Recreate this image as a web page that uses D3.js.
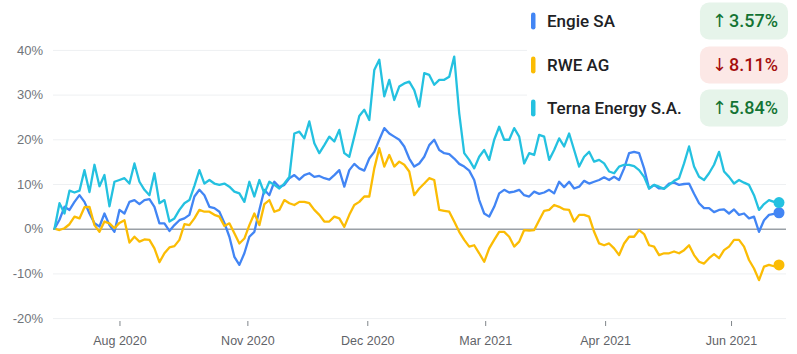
<!DOCTYPE html>
<html>
<head>
<meta charset="utf-8">
<script src="https://cdn.jsdelivr.net/npm/d3@7"></script>
<style>
body { margin: 0; background: #fff; }
svg { display: block; font-family: Roboto, "Noto Sans", sans-serif; }
</style>
</head>
<body>
<div id="chart"></div>
<script>
// Series, % change from start, one value per sample (roughly every trading day pair)
var names = ["Engie SA", "RWE AG", "Terna Energy S.A."];
var changes = [3.57, -8.11, 5.84];
var colors = ["#4285f4", "#fbbc04", "#24c1e0"];

var engie = [
	0, 2.0, 4.9, 4.2, 6.0, 7.5, 6.0, 3.4, 1.2, 0.5,
	3.4, 0.8, -0.7, 4.2, 3.4, 6.0, 6.4, 5.5, 6.4, 6.6,
	4.9, 1.2, 1.2, -0.5, 0.8, 1.9, 2.3, 3.1, 7.2, 8.7,
	7.5, 4.9, 4.6, 3.8, 1.3, -1.8, -6.3, -8.1, -5.5, -1.8,
	-0.7, 4.2, 8.7, 7.5, 10.5, 9.3, 9.8, 11.3, 12.0, 11.0,
	12.0, 12.4, 11.6, 11.8, 11.3, 11.0, 12.0, 13.1, 9.4, 13.1,
	14.5, 13.5, 13.0, 15.7, 17.2, 19.9, 22.5, 21.3, 20.6, 19.9,
	18.4, 15.7, 13.9, 14.6, 16.1, 18.7, 19.9, 17.6, 16.9, 16.7,
	15.7, 14.5, 13.9, 13.0, 10.9, 6.4, 3.4, 2.7, 4.9, 7.9,
	8.7, 8.1, 8.3, 8.7, 7.5, 7.2, 8.3, 7.8, 8.1, 8.7,
	7.9, 10.5, 9.3, 10.5, 9.0, 9.4, 10.7, 10.1, 10.5, 10.9,
	11.5, 10.9, 11.6, 10.9, 13.5, 16.9, 17.2, 16.9, 13.5, 9.0,
	9.8, 9.0, 9.0, 10.1, 10.3, 9.8, 10.0, 10.1, 7.8, 5.7,
	4.6, 4.6, 3.7, 4.2, 4.3, 3.4, 4.3, 3.1, 3.4, 2.3,
	2.7, -0.7, 1.9, 3.1, 3.3, 3.57
];

var rwe = [
	0, -0.3, 0.1, 1.0, 2.7, 2.3, 4.8, 4.9, 0.8, -0.7,
	1.6, 1.2, 0.1, 1.3, 1.9, -3.1, -1.8, -2.9, -2.4, -2.5,
	-4.4, -7.5, -5.5, -4.2, -3.9, -2.5, 1.0, 0.8, 2.3, 4.2,
	3.8, 3.8, 3.1, 2.7, 0.6, 1.2, -1.0, -3.3, -2.2, 0.8,
	3.4, 0.8, 5.5, 6.4, 3.8, 4.2, 6.4, 5.7, 5.3, 6.0,
	6.0, 5.7, 4.2, 3.1, 1.6, 1.6, 2.7, 2.3, 0.4, 3.1,
	5.3, 6.0, 7.2, 7.2, 13.5, 18.0, 13.9, 16.5, 13.9, 15.0,
	14.3, 12.8, 7.5, 9.0, 10.1, 11.3, 10.9, 4.2, 4.0, 3.8,
	1.6, -0.7, -2.5, -4.0, -3.7, -5.5, -7.4, -4.4, -2.5, -0.7,
	-0.7, -1.8, -4.0, -2.9, -0.3, -0.4, -0.3, 1.9, 4.0, 4.2,
	5.3, 4.9, 4.3, 4.2, 1.6, 3.1, 3.1, 2.7, -0.7, -3.3,
	-3.7, -3.3, -4.4, -5.9, -3.3, -1.8, -1.8, -0.3, -1.2, -3.7,
	-4.0, -5.9, -5.5, -5.5, -5.1, -5.5, -4.8, -3.7, -5.9, -7.4,
	-7.8, -6.6, -5.7, -6.6, -4.8, -4.0, -2.5, -2.5, -4.0, -7.0,
	-8.9, -11.5, -8.5, -8.1, -8.4, -8.11
];

var terna = [
	0, 5.7, 3.4, 8.5, 8.1, 8.5, 13.1, 8.2, 14.3, 9.5,
	12.0, 5.0, 10.5, 10.9, 11.3, 10.1, 14.6, 10.5, 8.7, 7.5,
	12.4, 5.7, 6.4, 1.6, 2.3, 4.2, 5.7, 6.4, 9.6, 13.1,
	10.1, 10.9, 10.1, 9.8, 10.1, 9.4, 8.3, 7.9, 6.0, 10.5,
	7.2, 10.9, 7.9, 10.5, 9.8, 9.0, 10.1, 11.6, 21.3, 21.7,
	20.2, 24.0, 19.1, 16.9, 18.7, 20.6, 19.5, 22.1, 16.9, 16.1,
	20.6, 25.2, 26.6, 24.3, 35.5, 37.8, 29.6, 33.3, 28.8, 31.8,
	32.5, 32.9, 31.0, 27.3, 34.8, 34.4, 32.2, 33.3, 33.3, 34.0,
	38.5, 25.8, 16.9, 15.4, 13.5, 16.1, 17.6, 15.4, 19.9, 22.8,
	19.9, 19.9, 22.5, 20.6, 14.6, 16.9, 16.5, 21.0, 20.6, 15.4,
	17.6, 20.2, 18.4, 21.3, 17.6, 13.9, 16.1, 17.2, 15.0, 15.4,
	14.6, 12.8, 12.4, 13.9, 14.3, 14.3, 14.0, 13.1, 11.6, 9.0,
	9.8, 9.4, 8.9, 9.8, 10.7, 11.3, 14.6, 18.4, 13.9, 11.6,
	10.9, 12.4, 14.3, 17.2, 12.8, 11.6, 10.1, 10.9, 10.3, 9.8,
	7.5, 4.2, 5.5, 6.4, 6.0, 5.84
];

var yTicks = [-20, -10, 0, 10, 20, 30, 40];
// x tick positions are sample indices
var xTickPos = [13, 38.6, 62.6, 86.2, 110.2, 135.4];
var xTickLabels = ["Aug 2020", "Nov 2020", "Dec 2020", "Mar 2021", "Apr 2021", "Jun 2021"];

var width = 797, height = 354;
var series = [engie, rwe, terna];

var xScale = d3.scaleLinear().domain([0, engie.length - 1]).range([54.5, 779]);
var yScale = d3.scaleLinear().domain([-20, 40]).range([318.1, 49.9]);

var svg = d3.select("#chart").append("svg")
		.attr("width", width)
		.attr("height", height);

// Y axis with gridlines
var yAxis = d3.axisLeft(yScale)
		.tickValues(yTicks)
		.tickFormat(function(d) { return d + "%"; })
		.tickSize(-733)
		.tickPadding(10);

var gy = svg.append("g")
		.attr("transform", "translate(53,0)")
		.call(yAxis);
gy.select(".domain").remove();
gy.selectAll(".tick line")
		.attr("stroke", function(d) { return d === 0 ? "#9aa0a6" : "#eef0f2"; })
		.attr("stroke-width", function(d) { return d === 0 ? 1.6 : 1; });
gy.selectAll(".tick text")
		.attr("fill", "#70757a")
		.style("font-size", "13px");

// X axis
var xAxis = d3.axisBottom(xScale)
		.tickValues(xTickPos)
		.tickFormat(function(d, i) { return xTickLabels[i]; })
		.tickSize(5)
		.tickPadding(10);

var gx = svg.append("g")
		.attr("transform", "translate(0,321)")
		.call(xAxis);
gx.select(".domain").remove();
gx.selectAll(".tick line").attr("stroke", "#80868b");
gx.selectAll(".tick text")
		.attr("fill", "#5f6368")
		.style("font-size", "12.5px");

// Lines
var line = d3.line()
		.x(function(d, i) { return xScale(i); })
		.y(function(d) { return yScale(d); });

svg.append("g").selectAll("path")
	.data(series)
	.join("path")
		.attr("d", line)
		.attr("fill", "none")
		.attr("stroke", function(d, i) { return colors[i]; })
		.attr("stroke-width", 2.3)
		.attr("stroke-linejoin", "round")
		.attr("stroke-linecap", "round");

// End dots
svg.append("g").selectAll("circle")
	.data(series)
	.join("circle")
		.attr("cx", function(d) { return xScale(d.length - 1); })
		.attr("cy", function(d) { return yScale(d[d.length - 1]); })
		.attr("r", 5.5)
		.attr("fill", function(d, i) { return colors[i]; });

// Legend
var legend = svg.append("g").attr("class", "legend");
legend.append("rect")
		.attr("x", 527).attr("y", 0)
		.attr("width", 270).attr("height", 131)
		.attr("fill", "#fff");

var rowY = [21, 65, 108];
var item = legend.selectAll(".legend-item")
	.data(names)
	.join("g")
		.attr("class", "legend-item")
		.attr("transform", function(d, i) { return "translate(0," + rowY[i] + ")"; });

item.append("rect")
		.attr("x", 531).attr("y", -8.5)
		.attr("width", 4.5).attr("height", 17)
		.attr("rx", 2.25)
		.attr("fill", function(d, i) { return colors[i]; });

item.append("text")
		.attr("x", 547)
		.attr("dy", "0.35em")
		.attr("fill", "#202124")
		.style("font-size", "17px")
		.style("font-weight", 500)
		.text(function(d) { return d; });

var badge = item.append("rect")
		.attr("y", -18.5)
		.attr("height", 37)
		.attr("rx", 9)
		.attr("fill", function(d, i) { return changes[i] >= 0 ? "#e6f4ea" : "#fce8e6"; });

var badgeText = item.append("text")
		.attr("x", 778)
		.attr("dy", "0.36em")
		.attr("text-anchor", "end")
		.attr("fill", function(d, i) { return changes[i] >= 0 ? "#137333" : "#a50e0e"; })
		.style("font-size", "18px")
		.style("font-weight", 500);

badgeText.append("tspan")
		.style("font-family", "'DejaVu Sans', sans-serif")
		.style("font-weight", 400)
		.text(function(d, i) { return changes[i] >= 0 ? "\u2191" : "\u2193"; });
badgeText.append("tspan")
		.attr("dx", 2)
		.text(function(d, i) { return Math.abs(changes[i]).toFixed(2) + "%"; });

badgeText.each(function(d, i) {
	var w = this.getComputedTextLength() + 2;
	d3.select(badge.nodes()[i])
			.attr("x", 778 - w - 12)
			.attr("width", w + 22);
});
</script>
</body>
</html>
